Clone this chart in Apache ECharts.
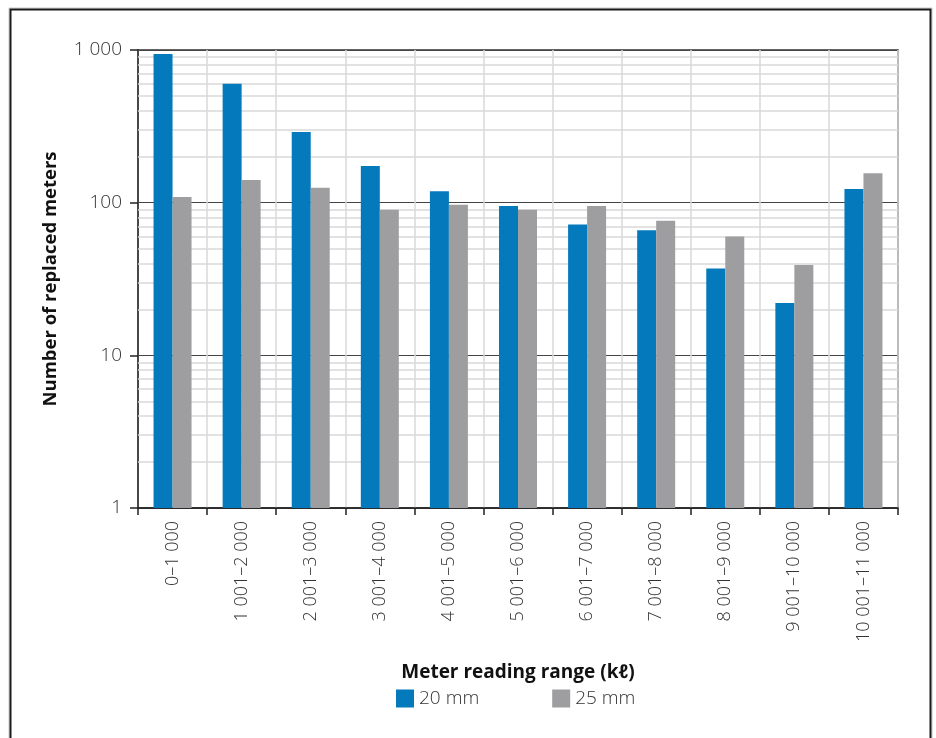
<!DOCTYPE html>
<html>
<head>
<meta charset="utf-8">
<script src="https://cdn.jsdelivr.net/npm/echarts@6/dist/echarts.min.js"></script>
<style>
  html, body { margin: 0; padding: 0; background: #fff; }
  #chart { width: 936px; height: 738px; }
</style>
</head>
<body>
<div id="chart"></div>
<script>
// Meter reading ranges (kℓ)
const categories = ['0–1 000', '1 001–2 000', '2 001–3 000', '3 001–4 000', '4 001–5 000',
  '5 001–6 000', '6 001–7 000', '7 001–8 000', '8 001–9 000', '9 001–10 000', '10 001–11 000'];
// Number of replaced meters per size
const meters20mm = [940, 600, 290, 174, 119, 95, 72, 66, 37, 22, 123];
const meters25mm = [109, 141, 125, 90, 97, 90, 95, 76, 60, 39, 156];
// Log-axis ticks and intermediate grid values
const yTicks = [1, 10, 100, 1000];
const minorGrid = [2, 3, 4, 5, 6, 7, 8, 9, 20, 30, 40, 50, 60, 70, 80, 90, 200, 300, 400, 500, 600, 700, 800, 900];

const FONT = '"Open Sans", "Noto Sans", sans-serif';
const chart = echarts.init(document.getElementById('chart'), null, { renderer: 'canvas' });

chart.setOption({
  animation: false,
  backgroundColor: '#fff',
  textStyle: { fontFamily: FONT },
  graphic: [
    { type: 'rect', shape: { x: 9, y: 8, width: 923, height: 760 }, style: { fill: 'none', stroke: '#c8c8c8', lineWidth: 1 }, silent: true },
    { type: 'rect', shape: { x: 10.5, y: 9.5, width: 920, height: 760 }, style: { fill: 'none', stroke: '#1a1a1a', lineWidth: 2 }, silent: true }
  ],
  grid: {
    left: 138, top: 50, right: 38, bottom: 230,
    show: true, borderColor: '#333', borderWidth: 1.5, backgroundColor: 'transparent'
  },
  legend: {
    data: ['20 mm', '25 mm'],
    left: 391, top: 684,
    itemWidth: 18, itemHeight: 18, itemGap: 73,
    icon: 'rect',
    textStyle: { fontSize: 19, fontWeight: 300, color: '#333', fontFamily: FONT }
  },
  xAxis: {
    type: 'category',
    data: categories,
    name: 'Meter reading range (kℓ)',
    nameLocation: 'middle',
    nameGap: 155,
    nameTextStyle: { fontSize: 19, fontWeight: 'bold', color: '#111', fontFamily: FONT },
    axisLine: { show: true, lineStyle: { color: '#222', width: 1.5 } },
    axisTick: { show: true, length: 7, interval: 0, lineStyle: { color: '#222', width: 1.5 } },
    axisLabel: { rotate: 90, interval: 0, margin: 13, fontSize: 18, fontWeight: 300, color: '#333', fontFamily: FONT },
    splitLine: { show: true, interval: 0, lineStyle: { color: '#d9d9d9', width: 1.5 } }
  },
  yAxis: {
    type: 'log',
    logBase: 10,
    min: 1, max: 1000,
    name: 'Number of replaced meters',
    nameLocation: 'middle',
    nameGap: 78,
    nameRotate: 90,
    nameTextStyle: { fontSize: 18.5, fontWeight: 'bold', color: '#111', fontFamily: FONT },
    axisLine: { show: true, lineStyle: { color: '#222', width: 1.5 } },
    axisTick: { show: true, length: 8, lineStyle: { color: '#222', width: 1.5 } },
    axisLabel: {
      margin: 16, fontSize: 19, fontWeight: 300, color: '#333', fontFamily: FONT,
      formatter: v => yTicks.includes(Math.round(v)) ? String(Math.round(v)).replace(/\B(?=(\d{3})+(?!\d))/g, ' ') : ''
    },
    splitLine: { show: true, lineStyle: { color: '#444', width: 1.2 } }
  },
  series: [
    {
      // intermediate horizontal grid lines on the log scale
      name: 'grid', type: 'bar', data: [], z: 0,
      silent: true,
      markLine: {
        z: 1,
        silent: true, symbol: 'none', label: { show: false },
        lineStyle: { color: '#d9d9d9', width: 1.5, type: 'solid' },
        data: minorGrid.map(v => ({ yAxis: v }))
      }
    },
    {
      name: '20 mm', type: 'bar', data: meters20mm, z: 3,
      barWidth: 19, barGap: '0%',
      itemStyle: { color: '#0479bb' }
    },
    {
      name: '25 mm', type: 'bar', data: meters25mm, z: 3,
      barWidth: 19, barGap: '0%',
      itemStyle: { color: '#9e9ea0' }
    }
  ]
});
</script>
</body>
</html>
